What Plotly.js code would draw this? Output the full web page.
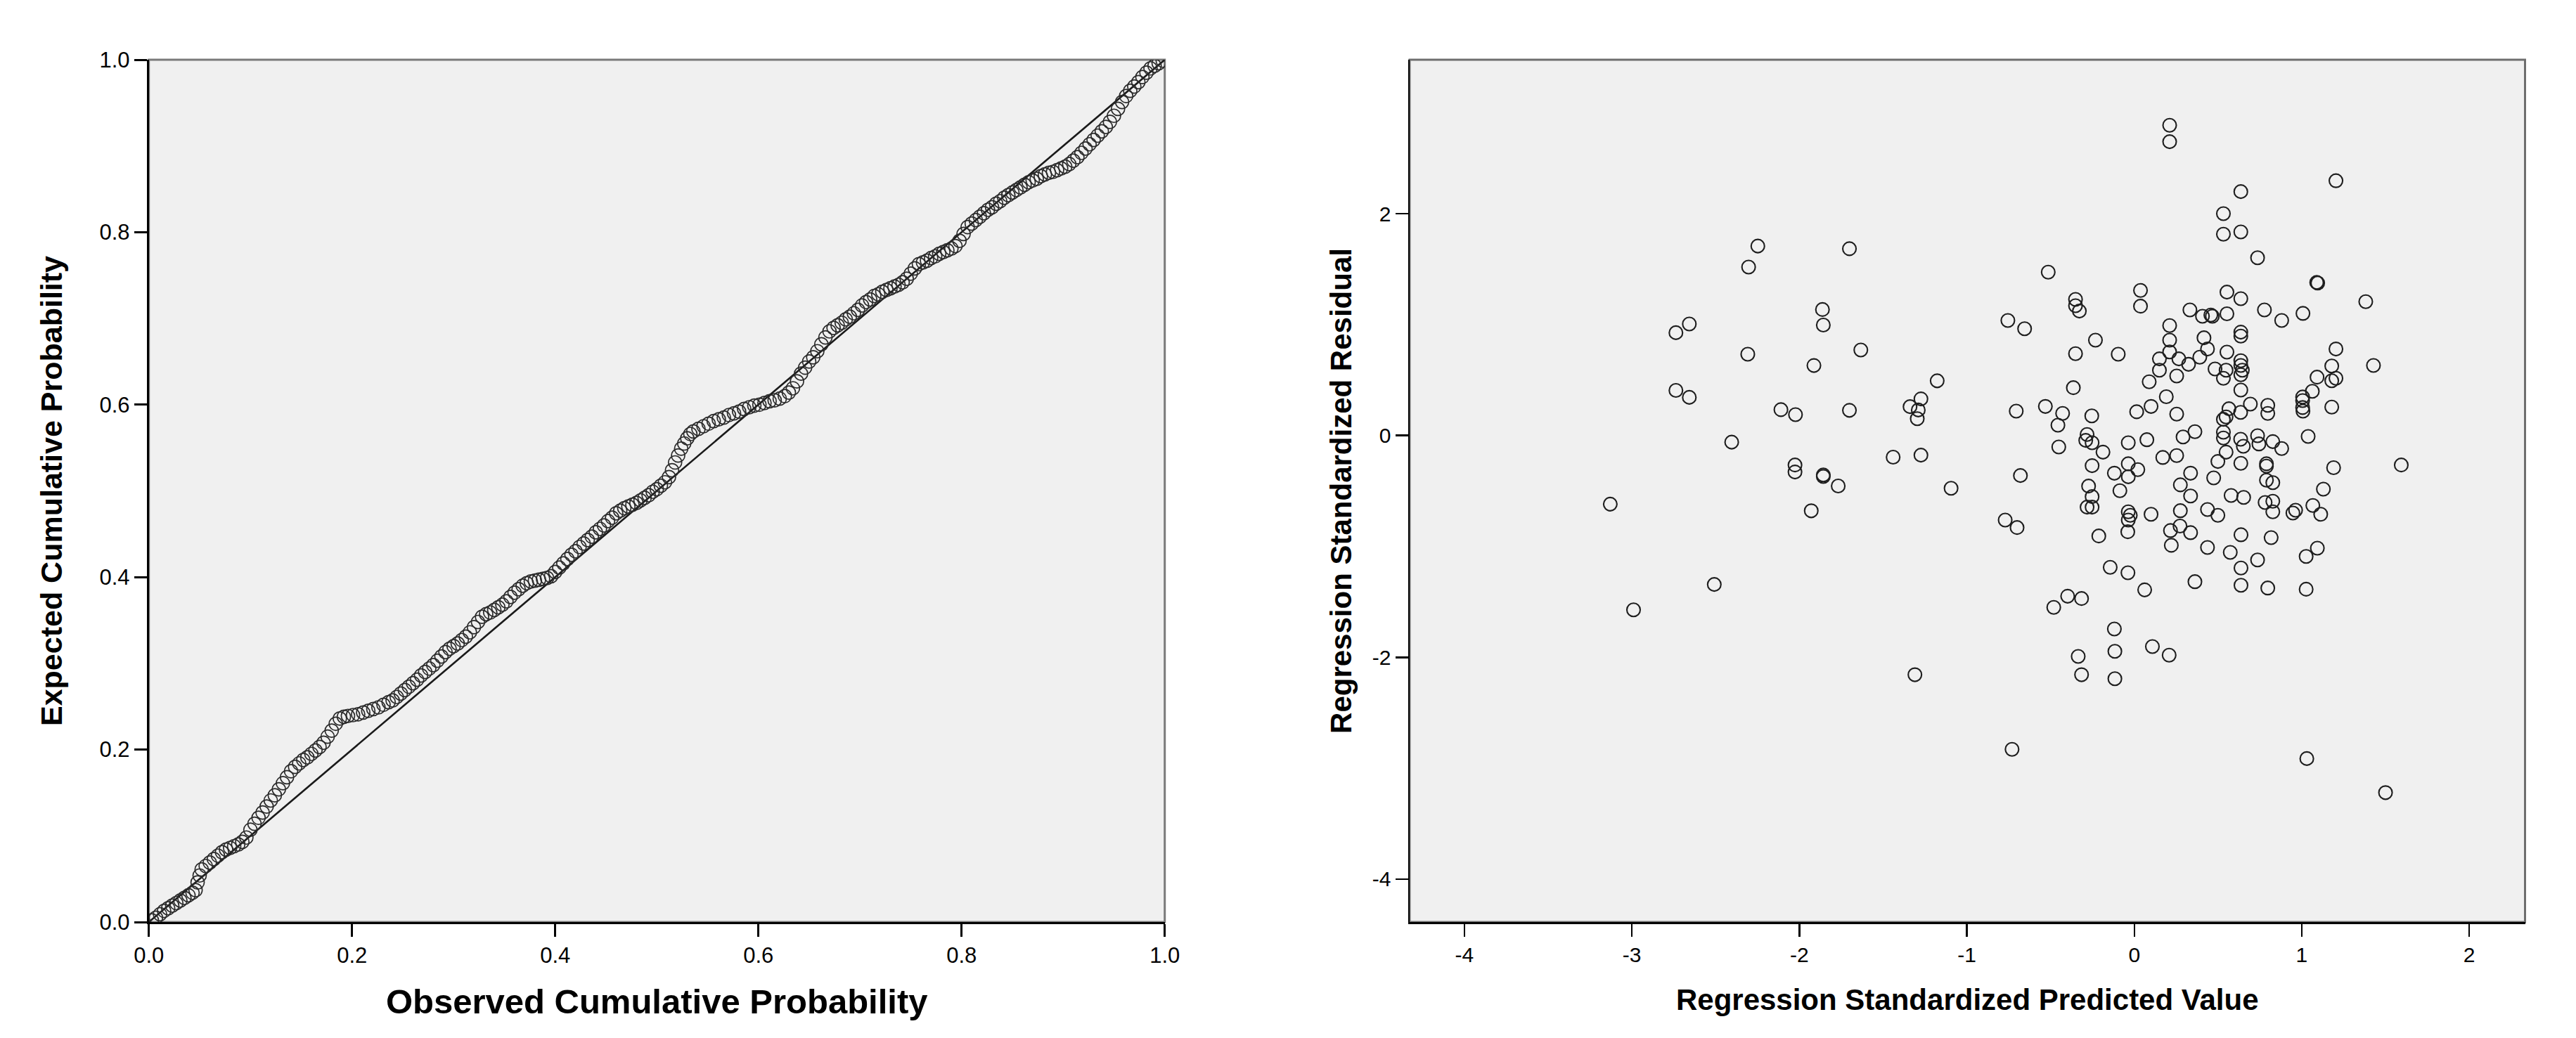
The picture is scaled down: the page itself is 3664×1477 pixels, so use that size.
<!DOCTYPE html>
<html>
<head>
<meta charset="utf-8">
<script src="https://cdn.plot.ly/plotly-3.0.1.min.js"></script>
<style>
  html, body { margin: 0; padding: 0; background: #ffffff; }
  #chart { width: 3664px; height: 1477px; }
</style>
</head>
<body>
<div id="chart"></div>
<script>
// ---------- Left panel: Normal P-P plot of regression standardized residual ----------
const ppObserved = [
  0.003,0.007,0.011,0.015,0.019,0.023,0.027,0.031,0.035,0.039,0.043,0.046,0.048,0.050,0.052,0.056,
  0.060,0.064,0.068,0.072,0.076,0.080,0.084,0.088,0.092,0.096,0.100,0.104,0.108,0.112,0.116,0.120,
  0.124,0.128,0.132,0.136,0.140,0.144,0.148,0.152,0.156,0.160,0.164,0.168,0.172,0.176,0.180,0.184,
  0.188,0.192,0.196,0.201,0.206,0.211,0.216,0.221,0.226,0.231,0.236,0.240,0.244,0.248,0.252,0.256,
  0.260,0.264,0.268,0.272,0.276,0.280,0.284,0.288,0.292,0.296,0.300,0.304,0.308,0.312,0.316,0.320,
  0.324,0.328,0.332,0.336,0.340,0.344,0.348,0.352,0.356,0.360,0.364,0.368,0.372,0.376,0.380,0.384,
  0.388,0.392,0.396,0.400,0.404,0.408,0.412,0.416,0.420,0.424,0.428,0.432,0.436,0.440,0.444,0.448,
  0.452,0.456,0.460,0.464,0.468,0.472,0.476,0.480,0.484,0.488,0.492,0.496,0.500,0.504,0.508,0.512,
  0.515,0.518,0.521,0.524,0.527,0.530,0.533,0.536,0.541,0.546,0.551,0.556,0.561,0.566,0.571,0.576,
  0.581,0.586,0.591,0.596,0.601,0.606,0.611,0.616,0.621,0.626,0.630,0.634,0.638,0.642,0.646,0.650,
  0.654,0.658,0.662,0.666,0.670,0.674,0.678,0.682,0.686,0.690,0.694,0.698,0.702,0.706,0.710,0.714,
  0.718,0.722,0.726,0.730,0.734,0.738,0.742,0.746,0.750,0.754,0.758,0.762,0.766,0.770,0.774,0.778,
  0.782,0.786,0.790,0.794,0.798,0.802,0.806,0.810,0.814,0.818,0.822,0.826,0.830,0.834,0.838,0.842,
  0.846,0.850,0.854,0.858,0.862,0.866,0.870,0.874,0.878,0.882,0.886,0.890,0.894,0.898,0.902,0.906,
  0.910,0.914,0.918,0.922,0.926,0.930,0.934,0.938,0.942,0.946,0.950,0.954,0.958,0.962,0.966,0.970,
  0.974,0.978,0.982,0.986,0.990,0.994,0.998
];
const ppExpected = [
  0.002,0.005,0.009,0.013,0.016,0.019,0.022,0.025,0.028,0.031,0.034,0.037,0.046,0.054,0.061,0.065,
  0.069,0.073,0.077,0.081,0.084,0.086,0.088,0.090,0.093,0.098,0.107,0.114,0.121,0.127,0.134,0.141,
  0.147,0.154,0.161,0.168,0.175,0.180,0.184,0.188,0.191,0.195,0.199,0.203,0.208,0.215,0.222,0.230,
  0.236,0.238,0.239,0.240,0.241,0.243,0.245,0.247,0.249,0.252,0.255,0.257,0.261,0.265,0.269,0.273,
  0.277,0.281,0.286,0.290,0.294,0.298,0.303,0.308,0.313,0.317,0.320,0.323,0.327,0.331,0.336,0.342,
  0.348,0.354,0.357,0.359,0.362,0.365,0.368,0.372,0.377,0.382,0.386,0.390,0.393,0.395,0.396,0.397,
  0.398,0.399,0.401,0.406,0.411,0.416,0.421,0.426,0.430,0.435,0.439,0.443,0.447,0.452,0.456,0.460,
  0.465,0.469,0.474,0.477,0.480,0.482,0.484,0.486,0.489,0.492,0.495,0.499,0.502,0.506,0.510,0.516,
  0.524,0.533,0.541,0.549,0.555,0.561,0.566,0.569,0.572,0.575,0.578,0.581,0.583,0.585,0.588,0.590,
  0.592,0.595,0.597,0.599,0.600,0.602,0.604,0.605,0.607,0.610,0.614,0.619,0.627,0.636,0.643,0.650,
  0.655,0.662,0.670,0.678,0.685,0.689,0.692,0.695,0.699,0.702,0.706,0.710,0.715,0.719,0.722,0.726,
  0.728,0.731,0.733,0.735,0.737,0.739,0.742,0.746,0.752,0.758,0.763,0.765,0.767,0.770,0.772,0.775,
  0.777,0.779,0.781,0.784,0.790,0.798,0.806,0.810,0.814,0.818,0.822,0.826,0.829,0.833,0.836,0.840,
  0.843,0.846,0.849,0.852,0.855,0.858,0.860,0.862,0.865,0.867,0.869,0.870,0.872,0.874,0.876,0.879,
  0.883,0.887,0.892,0.897,0.902,0.907,0.912,0.917,0.922,0.928,0.935,0.943,0.951,0.958,0.964,0.969,
  0.974,0.980,0.985,0.990,0.993,0.996,0.999
];
const refLineX = [0, 1];
const refLineY = [0, 1];

// ---------- Right panel: scatterplot of standardized residual vs predicted ----------
const predicted = [
  -3.129,-2.990,-2.737,-2.657,-2.737,-2.657,-2.508,-2.404,-2.308,-2.303,-2.248,-2.110,-2.023,-2.026,-2.026,-1.929,
  -1.913,-1.862,-1.857,-1.857,-1.857,-1.768,-1.701,-1.701,-1.633,-1.440,-1.339,-1.310,-1.296,-1.290,-1.274,-1.274,
  -1.177,-1.094,
  0.211,0.211,1.204,0.636,0.532,0.532,0.636,0.736,-0.514,1.089,1.095,0.037,0.037,-0.351,-0.351,-0.328,
  0.553,0.636,1.382,0.332,0.407,0.457,0.466,0.553,0.777,0.880,1.007,-0.755,-0.655,0.211,0.636,0.636,
  -0.232,0.211,0.416,1.204,-0.351,-0.096,0.211,0.437,0.553,1.428,0.150,0.150,0.266,0.324,0.391,0.482,
  0.548,0.532,0.636,0.636,0.645,0.636,0.253,0.089,-0.364,0.636,1.179,1.204,1.179,1.091,1.063,1.005,
  0.191,
  -0.705,-0.531,-0.428,-0.456,-0.254,-0.451,-0.282,-0.290,-0.252,-0.187,-0.252,-0.680,-0.036,0.075,0.014,0.100,
  0.253,0.291,0.362,0.170,0.253,-0.036,0.021,-0.119,-0.036,-0.086,0.336,0.275,0.336,0.474,0.499,0.636,
  0.565,0.532,0.548,0.635,0.693,0.797,0.797,1.005,1.005,1.007,1.179,0.532,0.532,0.548,0.635,0.651,
  0.736,0.744,0.827,0.880,0.789,0.789,0.789,0.827,1.038,0.578,0.653,1.190,1.594,1.129,
  -0.273,-0.252,-0.282,-0.252,-0.036,-0.024,-0.036,-0.039,0.100,0.275,0.273,0.336,0.216,0.221,0.437,0.499,
  -0.212,0.437,0.573,0.637,0.817,0.637,0.637,0.736,0.797,1.026,1.093,1.026,0.781,0.827,0.827,0.947,
  0.963,1.066,1.113,0.362,0.062,-0.144,-0.038,-0.398,-0.315,-0.481,-0.771,-0.700,-0.119,-0.335,-0.315,-0.116,
  -0.116,0.108,0.208,-0.730,1.030,1.500
];
const residual = [
  -0.619,-1.572,0.927,1.005,0.407,0.344,-1.343,-0.060,0.733,1.519,1.708,0.233,0.188,-0.266,-0.329,-0.679,
  0.631,1.136,0.996,-0.356,-0.370,-0.455,1.684,0.227,0.771,-0.195,0.260,-2.157,0.152,0.230,0.330,-0.177,
  0.493,-0.476,
  2.797,2.649,2.297,2.199,2.000,1.815,1.836,1.603,1.473,1.380,1.375,1.308,1.166,1.227,1.170,1.122,
  1.293,1.234,1.207,1.132,1.075,1.086,1.075,1.097,1.132,1.037,1.101,1.037,0.963,0.991,0.932,0.896,
  0.860,0.860,0.881,0.780,0.738,0.733,0.754,0.780,0.752,0.632,0.691,0.589,0.691,0.642,0.706,0.600,
  0.589,0.516,0.674,0.632,0.589,0.548,0.537,0.484,0.431,0.410,0.627,0.516,0.494,0.526,0.399,0.347,
  0.350,
  0.220,0.262,0.199,0.093,0.177,-0.103,0.009,-0.044,-0.065,-0.150,-0.272,-0.361,-0.065,-0.038,0.214,0.262,
  0.193,-0.013,0.034,-0.198,-0.181,-0.255,-0.308,-0.340,-0.372,-0.498,-0.340,-0.445,-0.545,-0.382,-0.234,-0.251,
  0.241,0.146,0.167,0.209,0.283,0.272,0.199,0.315,0.252,0.220,0.256,0.030,-0.023,-0.150,-0.034,-0.097,
  -0.002,-0.076,-0.055,-0.118,-0.255,-0.276,-0.403,-0.425,-0.008,-0.541,-0.558,-0.290,-0.266,-0.484,
  -0.456,-0.551,-0.646,-0.646,-0.688,-0.720,-0.762,-0.868,-0.710,-0.678,-0.816,-0.876,-0.857,-0.990,-0.667,-0.720,
  -0.906,-1.010,-1.054,-0.895,-0.921,-1.195,-1.350,-1.122,-1.375,-1.090,-1.016,-1.386,-0.604,-0.593,-0.688,-0.699,
  -0.674,-0.631,-0.710,-1.318,-1.392,-1.189,-1.238,-1.449,-1.470,-1.550,-0.762,-0.830,-1.745,-1.992,-2.157,-1.946,
  -2.193,-1.903,-1.981,-2.830,-2.913,-3.220
];

// ---------- Tick labels ----------
const ppTicks = [0, 0.2, 0.4, 0.6, 0.8, 1.0];
const ppTickText = ["0.0", "0.2", "0.4", "0.6", "0.8", "1.0"];
const predTicks = [-4, -3, -2, -1, 0, 1, 2];
const predTickText = ["-4", "-3", "-2", "-1", "0", "1", "2"];
const residTicks = [-4, -2, 0, 2];
const residTickText = ["-4", "-2", "0", "2"];

// ---------- Titles ----------
const titles = {
  ppX: "Observed Cumulative Probability",
  ppY: "Expected Cumulative Probability",
  scX: "Regression Standardized Predicted Value",
  scY: "Regression Standardized Residual"
};

const FONT = "Liberation Sans, Arial, sans-serif";
const W = 3664, H = 1477;

// panel geometry (pixels)
const leftPx = [211.7, 1656.7], rightPx = [2005, 3591.5], vertPx = [85, 1312];
const dom = (a, b, total) => [a / total, b / total];
const yDom = [1 - vertPx[1] / H, 1 - vertPx[0] / H];

const ppMarker = {
  symbol: "circle-open",
  size: 19,
  color: "#2a2a2a",
  line: { width: 1.7, color: "#2a2a2a" }
};
const scMarker = {
  symbol: "circle-open",
  size: 19,
  color: "#1e1e1e",
  line: { width: 2.1, color: "#1e1e1e" }
};

const traces = [
  { x: refLineX, y: refLineY, mode: "lines", line: { color: "#1a1a1a", width: 2.6 },
    xaxis: "x", yaxis: "y", hoverinfo: "skip", showlegend: false },
  { x: ppObserved, y: ppExpected, mode: "markers", marker: ppMarker,
    xaxis: "x", yaxis: "y", showlegend: false },
  { x: predicted, y: residual, mode: "markers", marker: scMarker,
    xaxis: "x2", yaxis: "y2", showlegend: false }
];

function axisBase(extra) {
  return Object.assign({
    showgrid: false, zeroline: false, showline: true,
    linecolor: "#000000", linewidth: 3,
    ticks: "outside", ticklen: 18, tickwidth: 3, tickcolor: "#000000",
    automargin: false, fixedrange: true,
    tickfont: { family: FONT, size: 31, color: "#000000" }
  }, extra);
}

const layout = {
  width: W, height: H,
  margin: { l: 0, r: 0, t: 0, b: 0, pad: 0 },
  paper_bgcolor: "#ffffff",
  plot_bgcolor: "#f0f0f0",
  showlegend: false,
  xaxis: axisBase({
    domain: dom(leftPx[0], leftPx[1], W), range: [0, 1], anchor: "y",
    tickmode: "array", tickvals: ppTicks, ticktext: ppTickText,
    title: { text: titles.ppX, standoff: 32,
      font: { family: FONT, size: 49, weight: "bold", color: "#000000" } }
  }),
  yaxis: axisBase({
    domain: yDom, range: [0, 1], anchor: "x",
    tickmode: "array", tickvals: ppTicks, ticktext: ppTickText,
    title: { text: titles.ppY, standoff: 40,
      font: { family: FONT, size: 43, weight: "bold", color: "#000000" } }
  }),
  xaxis2: axisBase({
    domain: dom(rightPx[0], rightPx[1], W), range: [-4.327, 2.333], anchor: "y2",
    tickmode: "array", tickvals: predTicks, ticktext: predTickText, linewidth: 2.5, tickwidth: 2.5,
    tickfont: { family: FONT, size: 30, color: "#000000" },
    title: { text: titles.scX, standoff: 34,
      font: { family: FONT, size: 42, weight: "bold", color: "#000000" } }
  }),
  yaxis2: axisBase({
    domain: yDom, range: [-4.387, 3.388], anchor: "x2",
    tickmode: "array", tickvals: residTicks, ticktext: residTickText, linewidth: 2.5, tickwidth: 2.5,
    tickfont: { family: FONT, size: 30, color: "#000000" },
    title: { text: titles.scY, standoff: 16,
      font: { family: FONT, size: 42, weight: "bold", color: "#000000" } }
  }),
  shapes: [
    { type: "rect", xref: "x domain", yref: "y domain", x0: 0, x1: 1, y0: 0, y1: 1,
      line: { color: "#7a7a7a", width: 3 }, fillcolor: "rgba(0,0,0,0)", layer: "below" },
    { type: "rect", xref: "x2 domain", yref: "y2 domain", x0: 0, x1: 1, y0: 0, y1: 1,
      line: { color: "#6e6e6e", width: 3 }, fillcolor: "rgba(0,0,0,0)", layer: "below" }
  ]
};

Plotly.newPlot("chart", traces, layout, { displayModeBar: false, staticPlot: true });
</script>
</body>
</html>
